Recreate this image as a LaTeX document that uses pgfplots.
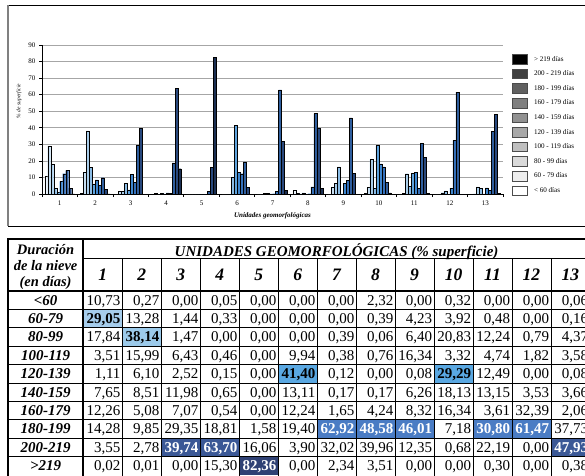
\documentclass[border=0pt]{standalone}
\usepackage{fontspec}
\setmainfont{Liberation Serif}
\usepackage{pgfplots}
\usepackage{pgfplotstable}
\pgfplotsset{compat=1.18}

\definecolor{c1}{HTML}{EAF2FA}
\definecolor{c2}{HTML}{C6DEF2}
\definecolor{c3}{HTML}{A9CDEA}
\definecolor{c4}{HTML}{8CBDE6}
\definecolor{c5}{HTML}{5FA3DD}
\definecolor{c6}{HTML}{3F87D0}
\definecolor{c7}{HTML}{3470BB}
\definecolor{c8}{HTML}{2F5E9E}
\definecolor{c9}{HTML}{28487D}
\definecolor{c10}{HTML}{1B2F52}

\definecolor{hl1}{HTML}{A6CDEC}
\definecolor{hl2}{HTML}{A6CDEC}
\definecolor{hl3}{HTML}{9CCAEA}
\definecolor{hl4}{HTML}{7DB8E6}
\definecolor{hl5}{HTML}{5AA8E2}
\definecolor{hl6}{HTML}{5AA8E2}
\definecolor{hl7}{HTML}{4A7CC4}
\definecolor{hl8}{HTML}{4A7CC4}
\definecolor{hl9}{HTML}{3B5896}
\definecolor{hl10}{HTML}{2F4174}

\pgfplotsset{legbox/.style={legend image code/.code={\draw[##1, draw=black!70, line width=0.8pt] (0pt,-4.8pt) rectangle (15pt,4.8pt);}}}

\pgfplotstableread{
u s1 s2 s3 s4 s5 s6 s7 s8 s9 s10
1 10.73 29.05 17.84 3.51 1.11 7.65 12.26 14.28 3.55 0.02
2 0.27 13.28 38.14 15.99 6.10 8.51 5.08 9.85 2.78 0.01
3 0.00 1.44 1.47 6.43 2.52 11.98 7.07 29.35 39.74 0.00
4 0.05 0.33 0.00 0.46 0.15 0.65 0.54 18.81 63.70 15.30
5 0.00 0.00 0.00 0.00 0.00 0.00 0.00 1.58 16.06 82.36
6 0.00 0.00 0.00 9.94 41.40 13.11 12.24 19.40 3.90 0.00
7 0.00 0.00 0.39 0.38 0.12 0.17 1.65 62.92 32.02 2.34
8 2.32 0.39 0.06 0.76 0.00 0.17 4.24 48.58 39.96 3.51
9 0.00 4.23 6.40 16.34 0.08 6.26 8.32 46.01 12.35 0.00
10 0.32 3.92 20.83 3.32 29.29 18.13 16.34 7.18 0.68 0.00
11 0.00 0.48 12.24 4.74 12.49 13.15 3.61 30.80 22.19 0.30
12 0.00 0.00 0.79 1.82 0.00 3.53 32.39 61.47 0.00 0.00
13 0.06 0.16 4.37 3.58 0.08 3.66 2.06 37.73 47.93 0.38
}\datatable

\begin{document}
\begin{tikzpicture}[x=1pt,y=1pt]
\useasboundingbox (0,0) rectangle (585,-475);
\clip (0,0) rectangle (585,-475);

% chart frame
\draw[black, line width=0.8pt] (8,-5) -- (592,-5);
\draw[black, line width=0.8pt] (8,-226) -- (592,-226);
\draw[black!50, line width=1.2pt] (8,-5) -- (8,-226);

\begin{axis}[
  at={(42pt,-194pt)}, anchor=south west,
  scale only axis, width=461pt, height=149pt,
  xmin=0.5, xmax=13.5, ymin=0, ymax=90,
  ybar, bar width=3pt,
  axis x line*=bottom, axis y line*=left,
  axis line style={-, black, line width=0.8pt},
  xtick={0.5,1.5,...,13.5},
  xticklabels={1,2,3,4,5,6,7,8,9,10,11,12,13,{}},
  x tick label style={xshift=17.73pt, font=\fontsize{7}{8}\selectfont},
  ytick={0,10,...,90},
  y tick label style={font=\fontsize{7}{8}\selectfont},
  tick align=outside, major tick length=3pt,
  tick style={black, line width=0.7pt},
  ymajorgrids, grid style={black!35, line width=0.6pt},
  /pgf/number format/assume math mode=true,
  xlabel={Unidades geomorfológicas},
  xlabel style={font=\bfseries\itshape\fontsize{7}{8}\selectfont, at={(axis description cs:0.5,0)}, anchor=base, yshift=-23pt},
  ylabel={\% de superficie},
  ylabel style={font=\itshape\fontsize{5.5}{6}\selectfont, at={(axis description cs:-0.05,0.624)}, anchor=center},
  legend style={at={(1.013,0.953)}, anchor=north west, draw=none, fill=none,
    font=\fontsize{7.1}{8}\selectfont, row sep=4.2pt, nodes={inner sep=0pt},
    /tikz/every odd column/.style={column sep=6pt}},
  legend cell align=left,
]
\addlegendimage{legbox, fill=black}\addlegendentry{> 219 días}
\addlegendimage{legbox, fill=black!75}\addlegendentry{200 - 219 días}
\addlegendimage{legbox, fill=black!62}\addlegendentry{180 - 199 días}
\addlegendimage{legbox, fill=black!50}\addlegendentry{160 - 179 días}
\addlegendimage{legbox, fill=black!43}\addlegendentry{140 - 159 días}
\addlegendimage{legbox, fill=black!34}\addlegendentry{120 - 139 días}
\addlegendimage{legbox, fill=black!25}\addlegendentry{100 - 119 días}
\addlegendimage{legbox, fill=black!15}\addlegendentry{80 - 99 días}
\addlegendimage{legbox, fill=black!7}\addlegendentry{60 - 79 días}
\addlegendimage{legbox, fill=white}\addlegendentry{< 60 días}

\addplot[forget plot, fill=c1, draw=black, line width=0.35pt, bar shift=-13.5pt] table[x=u,y=s1]{\datatable};
\addplot[forget plot, fill=c2, draw=black, line width=0.35pt, bar shift=-10.5pt] table[x=u,y=s2]{\datatable};
\addplot[forget plot, fill=c3, draw=black, line width=0.35pt, bar shift=-7.5pt] table[x=u,y=s3]{\datatable};
\addplot[forget plot, fill=c4, draw=black, line width=0.35pt, bar shift=-4.5pt] table[x=u,y=s4]{\datatable};
\addplot[forget plot, fill=c5, draw=black, line width=0.35pt, bar shift=-1.5pt] table[x=u,y=s5]{\datatable};
\addplot[forget plot, fill=c6, draw=black, line width=0.35pt, bar shift=1.5pt] table[x=u,y=s6]{\datatable};
\addplot[forget plot, fill=c7, draw=black, line width=0.35pt, bar shift=4.5pt] table[x=u,y=s7]{\datatable};
\addplot[forget plot, fill=c8, draw=black, line width=0.35pt, bar shift=7.5pt] table[x=u,y=s8]{\datatable};
\addplot[forget plot, fill=c9, draw=black, line width=0.35pt, bar shift=10.5pt] table[x=u,y=s9]{\datatable};
\addplot[forget plot, fill=c10, draw=black, line width=0.35pt, bar shift=13.5pt] table[x=u,y=s10]{\datatable};
\end{axis}

% ---------------- table ----------------
\foreach \u in {1,...,13} {
  \pgfmathtruncatemacro\r{\u-1}
  \xdef\mx{0}
  \foreach \s in {1,...,10} {
    \pgfplotstablegetelem{\r}{s\s}\of\datatable
    \pgfmathparse{max(\mx,\pgfplotsretval)}
    \xdef\mx{\pgfmathresult}
  }
  \pgfmathsetmacro\xl{83.3+(\u-1)*38.97}
  \pgfmathsetmacro\xr{83.3+\u*38.97-1.6}
  \foreach \s in {1,...,10} {
    \pgfplotstablegetelem{\r}{s\s}\of\datatable
    \let\cval\pgfplotsretval
    \pgfmathsetmacro\yt{291+(\s-1)*18.4}
    \pgfmathsetmacro\yb{291+\s*18.4-4.3}
    \ifdim\cval pt=\mx pt
      \fill[hl\s] (\xl,-\yt) rectangle ++(38.97,-18.4);
      \ifnum\s>7 \def\tc{white}\else\def\tc{black}\fi
      \node[anchor=base east, inner sep=0pt, text=\tc, font=\bfseries\fontsize{15}{15}\selectfont] at (\xr,-\yb)
        {\pgfmathprintnumber[fixed,fixed zerofill,precision=2,use comma,assume math mode=true]{\cval}};
    \else
      \node[anchor=base east, inner sep=0pt, font=\fontsize{15}{15}\selectfont] at (\xr,-\yb)
        {\pgfmathprintnumber[fixed,fixed zerofill,precision=2,use comma,assume math mode=true]{\cval}};
    \fi
  }
}

% row labels
\foreach \lab [count=\s] in {<60,60-79,80-99,100-119,120-139,140-159,160-179,180-199,200-219,>219} {
  \pgfmathsetmacro\yb{291+\s*18.4-4.3}
  \node[anchor=base, inner sep=0pt, font=\bfseries\itshape\fontsize{15}{15}\selectfont] at (45.6,-\yb) {\lab};
}

% column numbers
\foreach \k in {1,...,13} {
  \pgfmathsetmacro\xc{83.3+(\k-0.5)*38.97}
  \node[anchor=base, inner sep=0pt, font=\bfseries\itshape\fontsize{17.5}{17.5}\selectfont] at (\xc,-280.7) {\k};
}

% headers
\node[anchor=base, inner sep=0pt, font=\bfseries\itshape\fontsize{15}{15}\selectfont] at (336.6,-256.5) {UNIDADES GEOMORFOLÓGICAS (\% superficie)};
\node[anchor=base, inner sep=0pt, font=\bfseries\itshape\fontsize{14.5}{14.5}\selectfont] at (45.6,-254.3) {Duración};
\node[anchor=base, inner sep=0pt, font=\bfseries\itshape\fontsize{14.5}{14.5}\selectfont] at (45.6,-270.8) {de la nieve};
\node[anchor=base, inner sep=0pt, font=\bfseries\itshape\fontsize{14.5}{14.5}\selectfont] at (45.6,-286.0) {(en días)};

% grid lines
\foreach \k in {1,...,9} {
  \pgfmathsetmacro\yy{291+\k*18.4}
  \draw[black, line width=0.8pt] (8,-\yy) -- (592,-\yy);
}
\foreach \k in {1,...,12} {
  \pgfmathsetmacro\xx{83.3+\k*38.97}
  \draw[black, line width=0.8pt] (\xx,-258.3) -- (\xx,-476);
}
\draw[black, line width=0.8pt] (83.3,-258.3) -- (592,-258.3);
\draw[black, line width=2pt] (7,-239) -- (592,-239);
\draw[black, line width=2.2pt] (7,-291) -- (592,-291);
\draw[black, line width=2pt] (8,-238) -- (8,-476);
\draw[black, line width=2pt] (83.3,-238) -- (83.3,-476);
\end{tikzpicture}
\end{document}
